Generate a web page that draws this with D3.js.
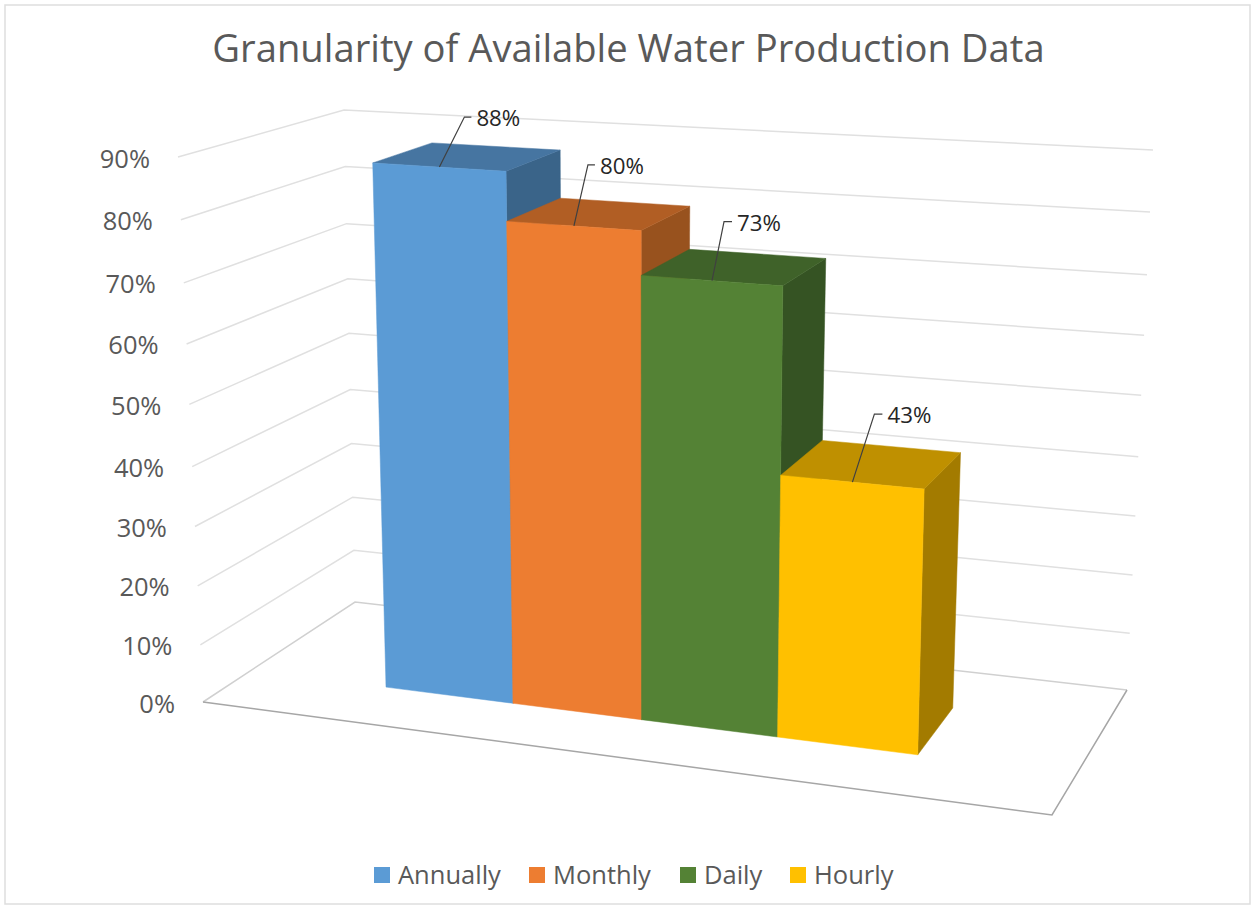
<!DOCTYPE html>
<html><head><meta charset="utf-8">
<script src="https://cdn.jsdelivr.net/npm/d3@7"></script>
<style>html,body{margin:0;padding:0;background:#fff}svg{display:block}text{font-family:"Open Sans",sans-serif}</style>
</head><body><svg id="c" width="1254" height="907"></svg>
<script>
const chartTitle = "Granularity of Available Water Production Data";
const categories = ["Annually","Monthly","Daily","Hourly"];
const values = [88,80,73,43];
const valueLabels = ["88%","80%","73%","43%"];
const tickValues = [0,10,20,30,40,50,60,70,80,90];
const tickLabels = ["0%","10%","20%","30%","40%","50%","60%","70%","80%","90%"];
const frontColors = ["#5B9BD5","#ED7D31","#548235","#FFC000"];
const topColors = ["#4675A1","#B15E24","#3F6229","#BF9000"];
const sideColors = ["#3A6489","#98521E","#355323","#A37B00"];

// projection: the cube of the 3D chart, as its eight screen corners
const cube = {
  floor:{fl:[203,702],fr:[1052,815],br:[1127,690],bl:[355,602]},
  roof:{fl:[178,157],fr:[1072,216],br:[1153,150],bl:[344,110]}
};
// foreshortening of the value axis
const heightScale = d3.scaleLinear().domain(tickValues).range([0,.105,.213,.322,.432,.546,.657,.769,.885,1]);
// foreshortening of the category axis (band edges)
const acrossScale = d3.scaleLinear().domain([0,1,2,3,4]).range([.163,.317,.473,.638,.808]);
const depthFront = .32, depthBack = .71;
const lerp = (a,b,t)=>[a[0]+(b[0]-a[0])*t,a[1]+(b[1]-a[1])*t];
function project(u,v,d){
  const plane = p=>lerp(lerp(p.fl,p.fr,u),lerp(p.bl,p.br,u),d);
  return lerp(plane(cube.floor),plane(cube.roof),heightScale(v));
}
const svg = d3.select("#c");
const line = d3.line();

svg.append("rect").attr("x",5).attr("y",5).attr("width",1245).attr("height",899).attr("fill","#fff").attr("stroke","#dedede").attr("stroke-width",1.5);

svg.append("text").attr("x",628.5).attr("y",62).attr("text-anchor","middle").attr("font-size",38.2).attr("fill","#595959").text(chartTitle);

// gridlines on the two walls
tickValues.forEach((t,i)=>{
  if(t===0) return;
  const tt = Math.min(t,90);
  svg.append("path").attr("d",line([project(0,tt,0),project(0,tt,1),project(1,tt,1)])).attr("fill","none").attr("stroke","#e0e0e0").attr("stroke-width",1.5);
});
// floor
svg.append("path").attr("d",line([project(0,0,0),project(0,0,1),project(1,0,1)])).attr("fill","none").attr("stroke","#d0d0d0").attr("stroke-width",1.5);
svg.append("path").attr("d",line([project(1,0,1),project(1,0,0),project(0,0,0)])).attr("fill","none").attr("stroke","#a6a6a6").attr("stroke-width",1.5);

// axis labels
tickValues.forEach((t,i)=>{
  const p = project(0,t,0);
  svg.append("text").attr("x",p[0]-28).attr("y",p[1]+10.5).attr("text-anchor","end").attr("font-size",25.5).attr("fill","#595959").text(tickLabels[i]);
});

// bars
categories.forEach((c,i)=>{
  const v = values[i], u0 = acrossScale(i), u1 = acrossScale(i+1);
  const poly = (pts,fill)=>svg.append("path").attr("d",line(pts)+"Z").attr("fill",fill).attr("stroke",fill).attr("stroke-width",.5);
  poly([project(u1,0,depthFront),project(u1,0,depthBack),project(u1,v,depthBack),project(u1,v,depthFront)],sideColors[i]);
  poly([project(u0,v,depthFront),project(u0,v,depthBack),project(u1,v,depthBack),project(u1,v,depthFront)],topColors[i]);
  poly([project(u0,0,depthFront),project(u1,0,depthFront),project(u1,v,depthFront),project(u0,v,depthFront)],frontColors[i]);
});

// leaders and data labels
const leaderOffsets = [[25,-50,32],[14,-61,21],[12,-59,20],[22,-68,30]];
categories.forEach((c,i)=>{
  const a = project((acrossScale(i)+acrossScale(i+1))/2,values[i],depthFront);
  const o = leaderOffsets[i];
  svg.append("path").attr("d",line([a,[a[0]+o[0],a[1]+o[1]],[a[0]+o[2],a[1]+o[1]]])).attr("fill","none").attr("stroke","#404040").attr("stroke-width",1.2);
  svg.append("text").attr("x",a[0]+o[2]+5).attr("y",a[1]+o[1]+9).attr("font-size",22.3).attr("fill","#262626").text(valueLabels[i]);
});

// legend
const legendX = d3.scaleOrdinal().domain(categories).range([374,529,680,790]);
categories.forEach((c,i)=>{
  const x = legendX(c);
  svg.append("rect").attr("x",x).attr("y",867).attr("width",16).attr("height",16).attr("fill",frontColors[i]);
  svg.append("text").attr("x",x+24).attr("y",884).attr("font-size",25.5).attr("fill","#595959").text(c);
});
</script></body></html>
